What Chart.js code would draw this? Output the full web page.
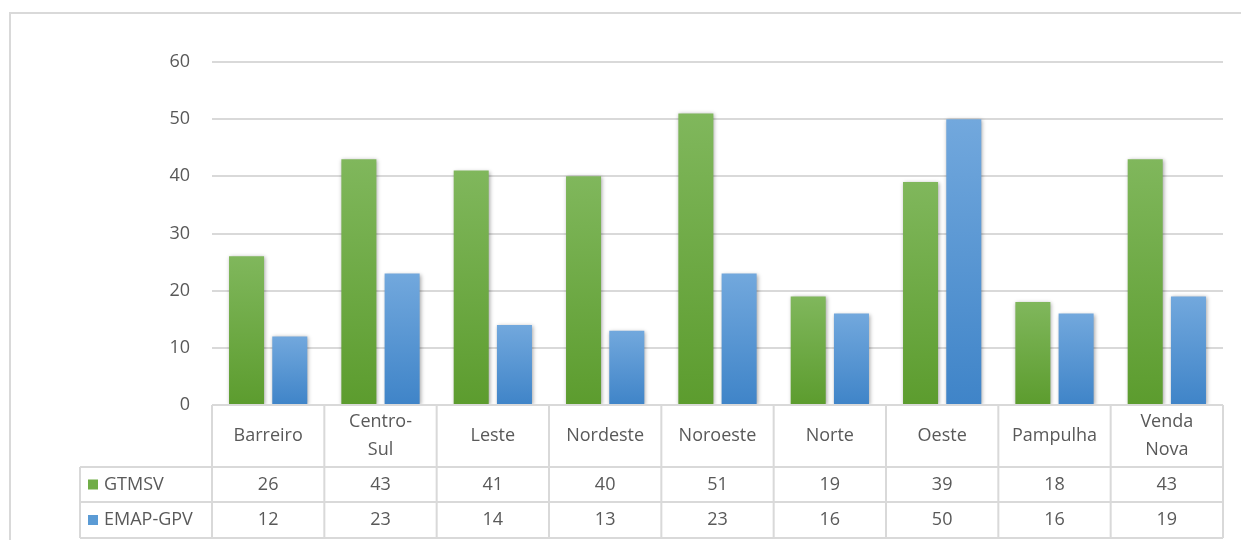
<!DOCTYPE html>
<html>
<head>
<meta charset="utf-8">
<script src="https://cdn.jsdelivr.net/npm/chart.js@4/dist/chart.umd.min.js"></script>
<style>
  html, body { margin: 0; padding: 0; background: #fff; }
  #wrap { width: 1241px; height: 540px; }
</style>
</head>
<body>
<div id="wrap"><canvas id="myChart" width="1241" height="540"></canvas></div>
<script>
const regioes = ['Barreiro', ['Centro-', 'Sul'], 'Leste', 'Nordeste', 'Noroeste', 'Norte', 'Oeste', 'Pampulha', ['Venda', 'Nova']];
const gtmsv = [26, 43, 41, 40, 51, 19, 39, 18, 43];
const emapGpv = [12, 23, 14, 13, 23, 16, 50, 16, 19];
const serieNomes = ['GTMSV', 'EMAP-GPV'];
const yTicks = [0, 10, 20, 30, 40, 50, 60];

const textColor = '#595959';
const lineColor = '#d9d9d9';
const fontFamily = '"Open Sans", Lato, sans-serif';
const fontSize = 18;

// each bar gets its own vertical gradient, lighter at the top
const barFill = (top, bottom, solid) => (ctx) => {
  const chart = ctx.chart;
  if (!chart.chartArea || ctx.raw == null) return solid;
  const y = chart.scales.y;
  const g = chart.ctx.createLinearGradient(0, y.getPixelForValue(ctx.raw), 0, y.getPixelForValue(0));
  g.addColorStop(0, top);
  g.addColorStop(1, bottom);
  return g;
};

const seriesColors = ['#70ad47', '#5b9bd5'];

// frame, bar shadow and the data table under the plot
const tablePlugin = {
  id: 'tablePlugin',
  beforeDraw(chart) {
    const ctx = chart.ctx;
    ctx.save();
    ctx.strokeStyle = lineColor;
    ctx.lineWidth = 2;
    ctx.strokeRect(10, 13, chart.width + 20, chart.height + 20);
    ctx.restore();
  },
  beforeDatasetsDraw(chart) {
    const ctx = chart.ctx;
    ctx.save();
    ctx.shadowColor = 'rgba(0,0,0,0.35)';
    ctx.shadowBlur = 4;
    ctx.shadowOffsetX = 1;
    ctx.shadowOffsetY = 1;
  },
  afterDatasetsDraw(chart) {
    chart.ctx.restore();
  },
  afterDraw(chart) {
    const ctx = chart.ctx;
    const x = chart.scales.x;
    const area = chart.chartArea;
    const n = regioes.length;
    const colW = (area.right - area.left) / n;
    const top = area.bottom;
    const rowCat = top + 62;
    const rowA = rowCat + 35;
    const rowB = rowA + 36;
    const legendLeft = 80;

    ctx.save();
    ctx.strokeStyle = lineColor;
    ctx.lineWidth = 2;
    ctx.beginPath();
    ctx.moveTo(area.left, top); ctx.lineTo(area.right, top);
    ctx.moveTo(legendLeft, rowCat); ctx.lineTo(area.right, rowCat);
    ctx.moveTo(legendLeft, rowA); ctx.lineTo(area.right, rowA);
    ctx.moveTo(legendLeft, rowB); ctx.lineTo(area.right, rowB);
    ctx.moveTo(legendLeft, rowCat); ctx.lineTo(legendLeft, rowB);
    for (let i = 0; i <= n; i++) {
      const xx = area.left + i * colW;
      ctx.moveTo(xx, top); ctx.lineTo(xx, rowB);
    }
    ctx.stroke();

    ctx.fillStyle = textColor;
    ctx.font = fontSize + 'px ' + fontFamily;
    ctx.textAlign = 'center';
    ctx.textBaseline = 'middle';
    const rows = [gtmsv, emapGpv];
    regioes.forEach((label, i) => {
      const cx = x.getPixelForValue(i);
      const lines = Array.isArray(label) ? label : [label];
      const mid = (top + rowCat) / 2;
      lines.forEach((ln, k) => {
        ctx.fillText(ln, cx, mid + (k - (lines.length - 1) / 2) * 28);
      });
      ctx.fillText(String(rows[0][i]), cx, (rowCat + rowA) / 2);
      ctx.fillText(String(rows[1][i]), cx, (rowA + rowB) / 2);
    });

    // legend keys in the row headers
    ctx.textAlign = 'left';
    const rowMids = [(rowCat + rowA) / 2, (rowA + rowB) / 2];
    serieNomes.forEach((nome, k) => {
      ctx.fillStyle = seriesColors[k];
      ctx.fillRect(88, rowMids[k] - 5, 10, 10);
      ctx.fillStyle = textColor;
      ctx.fillText(nome, 104, rowMids[k]);
    });
    ctx.restore();
  }
};

new Chart('myChart', {
  type: 'bar',
  data: {
    labels: regioes,
    datasets: [{
      label: serieNomes[0],
      data: gtmsv,
      backgroundColor: barFill('#80b75c', '#5c9c2e', seriesColors[0]),
      borderWidth: 0
    }, {
      label: serieNomes[1],
      data: emapGpv,
      backgroundColor: barFill('#72a8dd', '#3f84c8', seriesColors[1]),
      borderWidth: 0
    }]
  },
  options: {
    responsive: false,
    animation: false,
    categoryPercentage: 0.77,
    barPercentage: 0.81,
    layout: { padding: { top: 62, bottom: 135, left: 0, right: 18 } },
    plugins: {
      legend: { display: false },
      tooltip: { enabled: false }
    },
    scales: {
      x: { display: false },
      y: {
        min: 0,
        max: 60,
        afterBuildTicks: (scale) => { scale.ticks = yTicks.map(v => ({ value: v })); },
        afterFit: (scale) => { scale.width = 212; },
        grid: { color: lineColor, lineWidth: 2, drawTicks: false },
        border: { display: false },
        ticks: {
          padding: 22,
          color: textColor,
          font: { family: fontFamily, size: fontSize }
        }
      }
    }
  },
  plugins: [tablePlugin]
});
</script>
</body>
</html>
